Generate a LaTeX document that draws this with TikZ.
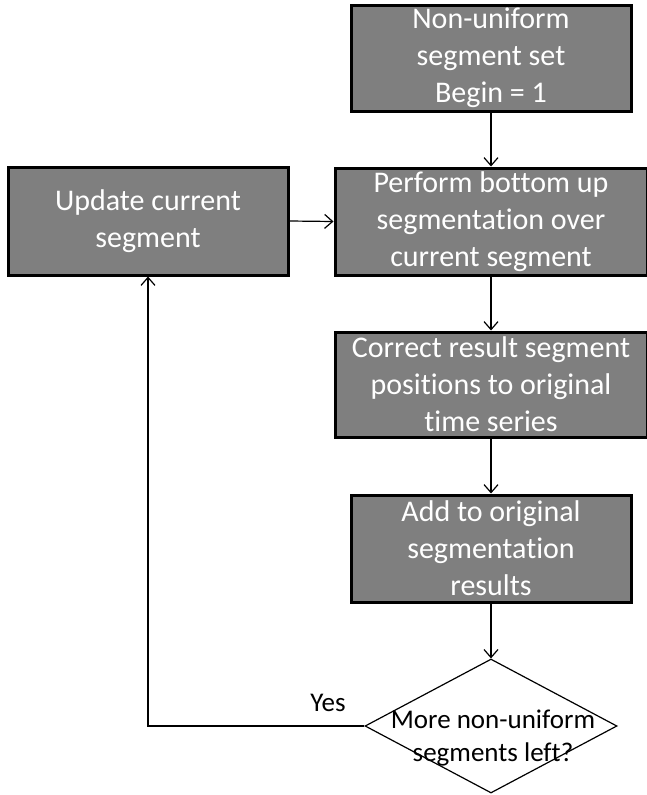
\documentclass[tikz,border=0pt]{standalone}
\usepackage{fontspec}
\setmainfont{Carlito}[Ligatures=NoCommon]
\usepackage{xcolor}
\usepackage{tikz}
\usetikzlibrary{shapes.geometric, arrows.meta, positioning, calc}

\definecolor{boxgray}{RGB}{127,127,127}

\tikzset{
    procbox/.style={draw=black, line width=3pt, fill=boxgray, text=white, align=center,
        inner sep=0pt, font=\fontsize{30}{37}\selectfont},
    decision/.style={diamond, draw=black, line width=1.2pt, minimum width=252pt,
        minimum height=134pt, inner sep=0pt},
    flowline/.style={line width=1.2pt, -{Straight Barb[length=8pt, width=14pt]}},
    smalltext/.style={font=\fontsize{27}{33}\selectfont, align=center, inner sep=0pt}
}

\begin{document}
\begin{tikzpicture}[x=1pt, y=-1pt]
    \useasboundingbox (0,0) rectangle (647,795);

    % Process boxes
    \node[procbox, minimum width=280pt, minimum height=106pt] (init) at (491,58)
        {Non-uniform\\segment set\\Begin = 1};
    \node[procbox, minimum width=312pt, minimum height=107pt] (perform) at (491,221.5)
        {Perform bottom up\\segmentation over\\current segment};
    \node[procbox, minimum width=280pt, minimum height=108pt] (update) at (148,221)
        {Update current\\segment};
    \node[procbox, minimum width=312pt, minimum height=105pt] (correct) at (491,384.5)
        {Correct result segment\\positions to original\\time series};
    \node[procbox, minimum width=280pt, minimum height=107pt] (addres) at (491,548.5)
        {Add to original\\segmentation\\results};

    % Decision
    \node[decision] (more) at (491,726) {};
    \node[smalltext] (moretext) at (493,738) {More non-uniform\\segments left?};

    % Arrows
    \draw[flowline] (init.south) -- (perform.north);
    \draw[flowline] (update.east) -- (perform.west);
    \draw[flowline] (perform.south) -- (correct.north);
    \draw[flowline] (correct.south) -- (addres.north);
    \draw[flowline] (addres.south) -- (more.north);
    \draw[flowline] (more.west) -| (update.south);

    % Labels
    \node[smalltext] (yeslbl) at (328,703) {Yes};
\end{tikzpicture}
\end{document}
